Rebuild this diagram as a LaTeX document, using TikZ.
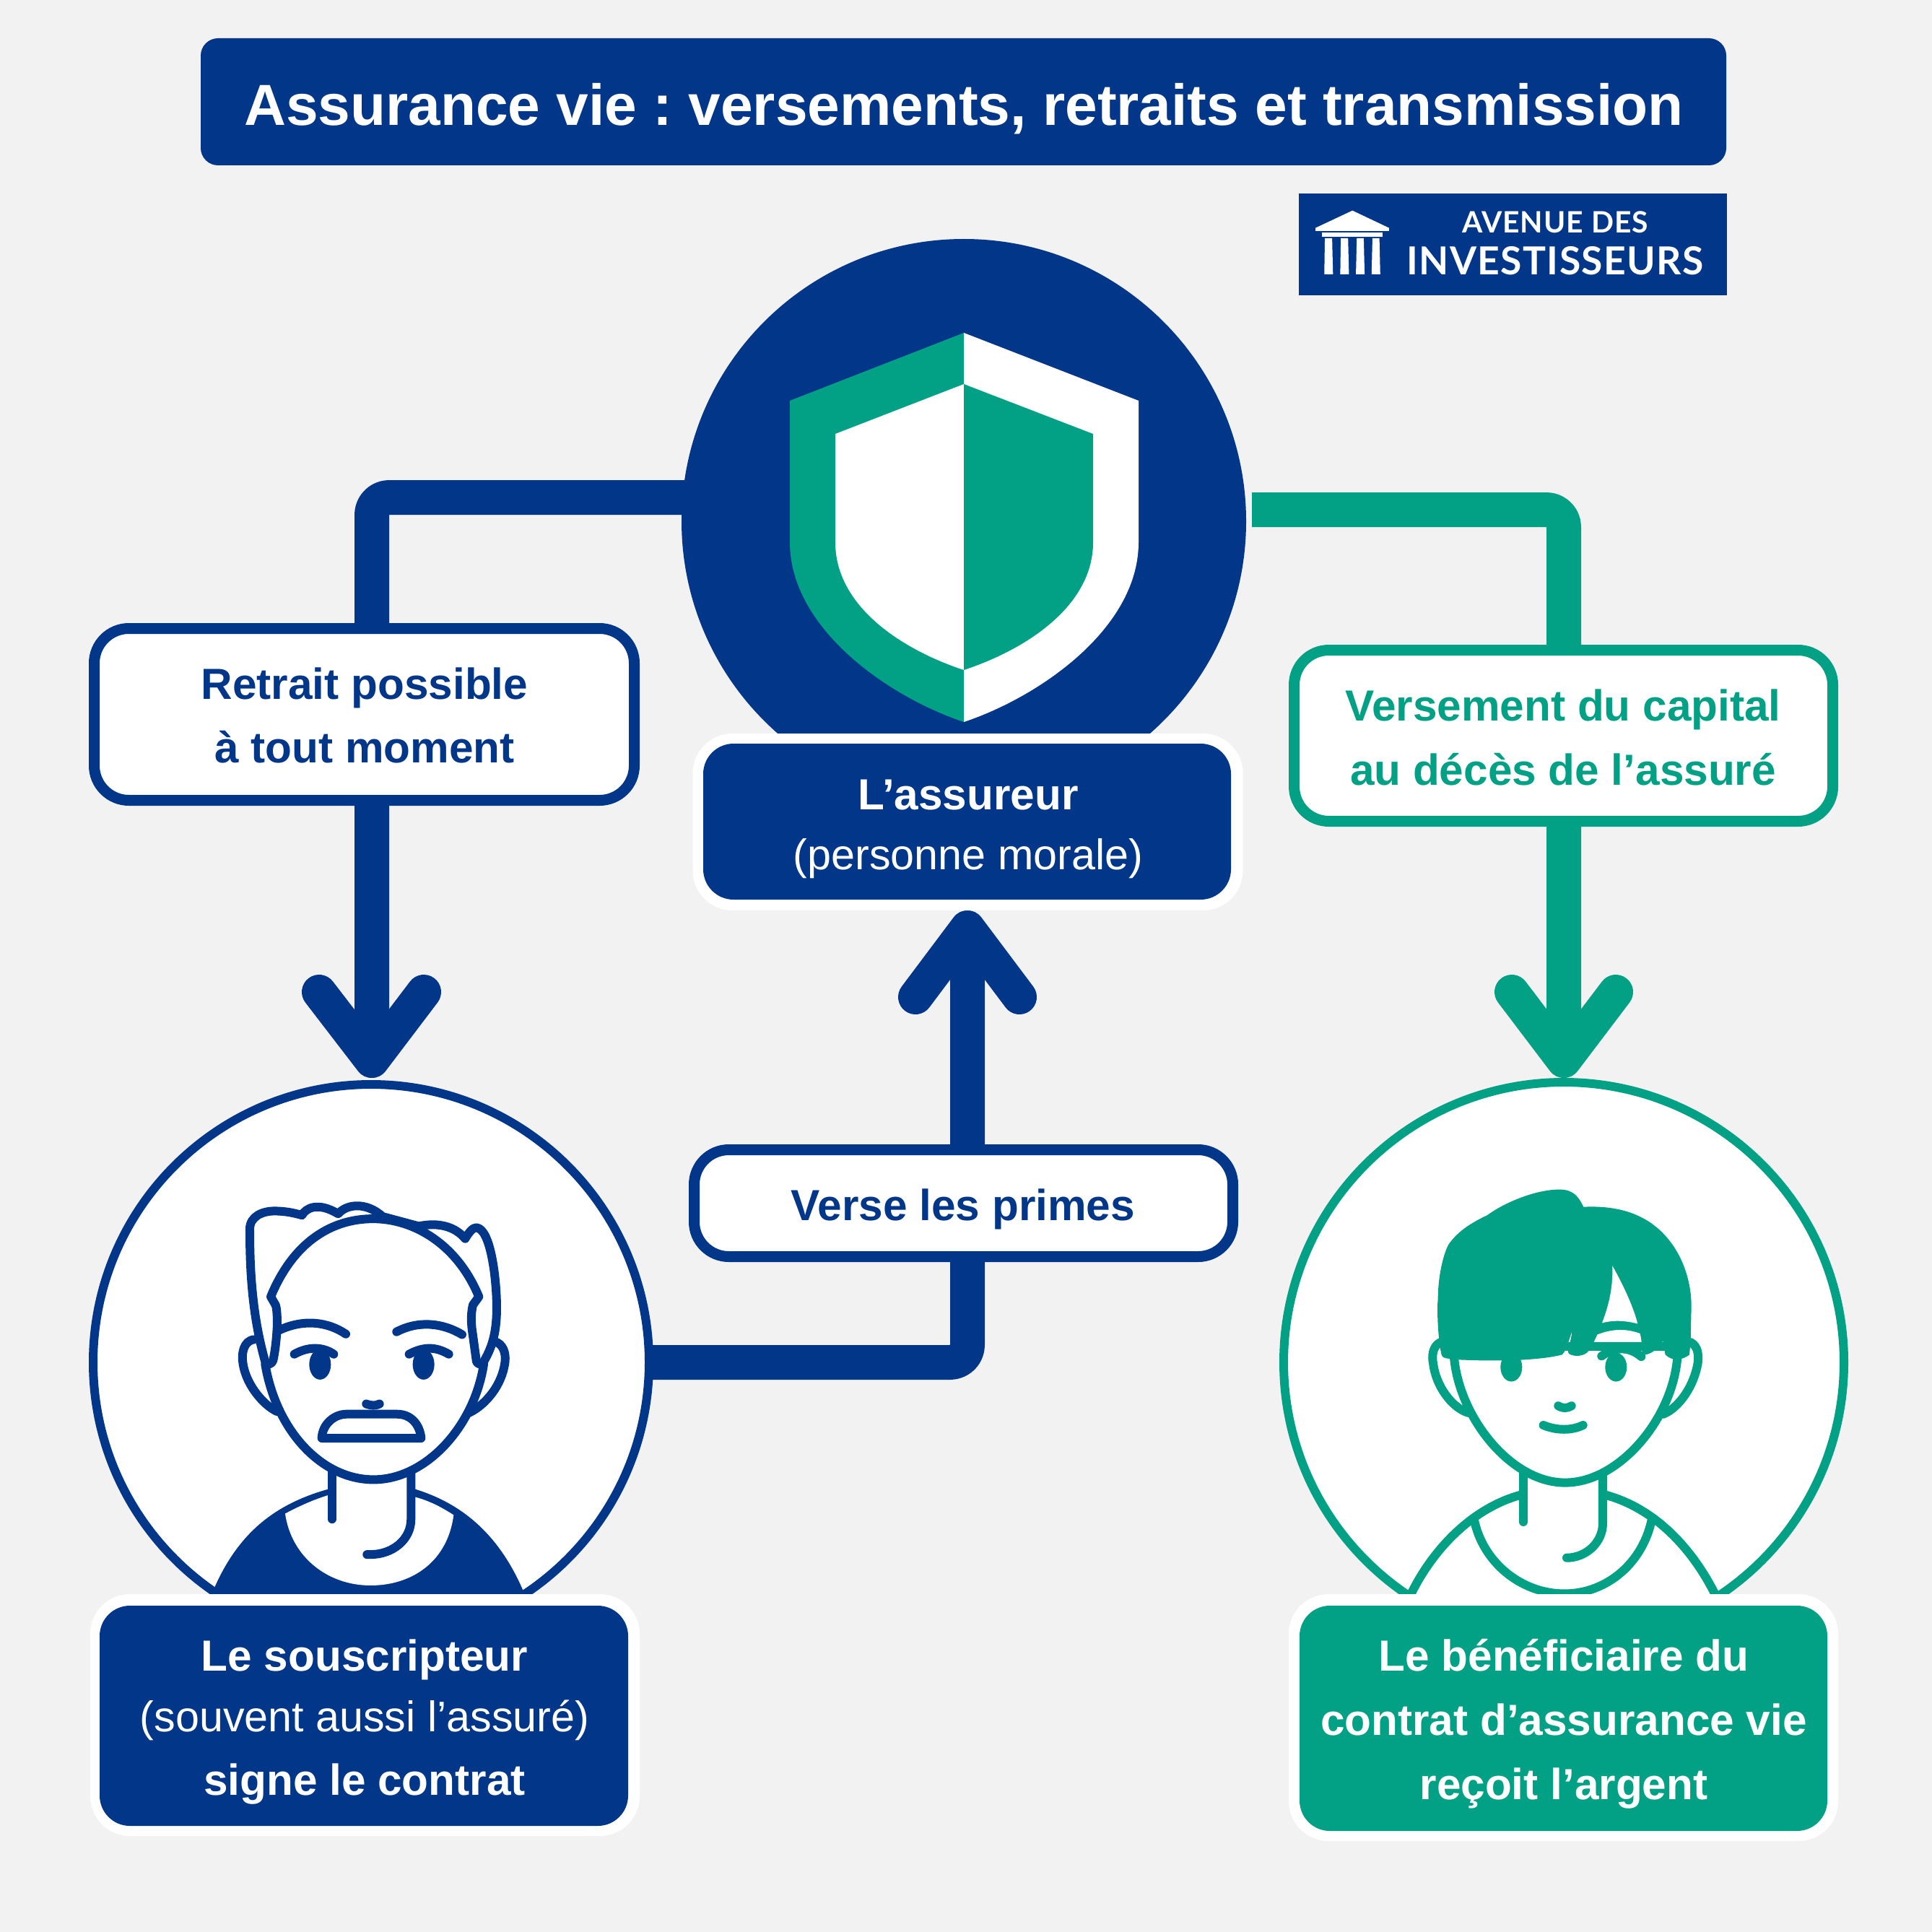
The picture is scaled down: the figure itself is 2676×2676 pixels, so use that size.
\documentclass[tikz,border=0pt]{standalone}
\usepackage{fontspec}
\setmainfont{Liberation Sans}
\newfontfamily\logofont{Lato}
\definecolor{ablue}{HTML}{013688}
\definecolor{agreen}{HTML}{02A084}
\definecolor{abg}{HTML}{F2F2F2}
\newcommand{\fpx}[1]{\fontsize{#1}{#1}\selectfont}
\pgfdeclarelayer{bg}
\pgfdeclarelayer{under}
\pgfsetlayers{bg,under,main}
\tikzset{
  x=0.01cm,y=-0.01cm,
  pxsize/.style 2 args={minimum width=#1*0.01cm,minimum height=#2*0.01cm,inner sep=0pt,outer sep=0pt},
  panel/.style={rectangle,rounded corners=0.42cm,draw=none},
  halo/.style={rectangle,rounded corners=0.55cm,fill=white,draw=none},
  tagbox/.style={rectangle,rounded corners=0.48cm,fill=white,line width=15*0.01cm},
  disc/.style={circle,inner sep=0pt,outer sep=0pt},
  conn/.style={line width=48*0.01cm,line join=round},
  elbow/.style={conn,rounded corners=0.24cm},
  wings/.style={conn,line cap=round},
  lab/.style={anchor=base,inner sep=0pt,outer sep=0pt},
  big/.style={lab,font=\fpx{17.15}\bfseries},
  thin/.style={lab,font=\fpx{16.85}},
  ink/.style={line width=12*0.01cm,line cap=round,line join=round},
}
\begin{document}
\frenchspacing
\begin{tikzpicture}
\useasboundingbox (0,0) rectangle (2676,2676);
\begin{pgfonlayer}{bg}
\fill[abg] (0,0) rectangle (2676,2676);
\end{pgfonlayer}

% coordinates for connectors
\coordinate (elbowL) at (515,689);
\coordinate (tipL) at (515,1469);
\coordinate (wingLa) at (442,1374);
\coordinate (wingLb) at (587,1374);
\coordinate (greenStart) at (1734,706);
\coordinate (elbowR) at (2166,706);
\coordinate (tipR) at (2166,1469);
\coordinate (wingRa) at (2094,1374);
\coordinate (wingRb) at (2238,1374);
\coordinate (elbowU) at (1340,1887);
\coordinate (tipU) at (1340,1285);
\coordinate (wingUa) at (1268,1381);
\coordinate (wingUb) at (1412,1381);

% Title
\node[rectangle,rounded corners=0.24cm,fill=ablue,pxsize={2113}{176}] (titlebox) at (1334.5,141) {};
\node[lab,font=\fpx{22.82}\bfseries,text=white] (titletext) at (1335,174) {Assurance vie : versements, retraits et transmission};

% Logo
\node[rectangle,fill=ablue,pxsize={593}{141}] (logobox) at (2095.5,339) {};
\begin{scope}[shift={(1780,250)},xscale=0.4018,yscale=0.3333]
  \fill[white] (232,125) -- (358,197) -- (358,210) -- (105,210) -- (105,197) -- cycle;
  \fill[white] (128,215) rectangle (335,235);
  \fill[white] (137,240) -- (162,240) -- (165,390) -- (135,390) -- cycle;
  \fill[white] (192,240) -- (217,240) -- (220,390) -- (190,390) -- cycle;
  \fill[white] (247,240) -- (271,240) -- (274,390) -- (244,390) -- cycle;
  \fill[white] (301,240) -- (325,240) -- (328,390) -- (298,390) -- cycle;
\end{scope}
\node[lab,font=\logofont\bfseries\fpx{11.6}\addfontfeatures{LetterSpace=2.5},text=white] (logoa) at (2154,323) {AVENUE DES};
\node[lab,font=\logofont\bfseries\fpx{15.2}\addfontfeatures{LetterSpace=2.5},text=white] (logob) at (2154,380) {INVESTISSEURS};

% Insurer disc and shield
\node[disc,fill=ablue,minimum size=782*0.01cm] (insurer) at (1335,722) {};
\fill[agreen] (1335,461) -- (1094,555) -- (1094,751) .. controls (1094,870) and (1230,965) .. (1335,1000) -- cycle;
\fill[white] (1335,461) -- (1577,555) -- (1577,751) .. controls (1577,870) and (1440,965) .. (1335,1000) -- cycle;
\fill[white] (1335,532) -- (1157,601) -- (1157,751) .. controls (1157,840) and (1250,900) .. (1335,928) -- cycle;
\fill[agreen] (1335,532) -- (1514,601) -- (1514,751) .. controls (1514,840) and (1420,900) .. (1335,928) -- cycle;

% Person 1
\node[disc,fill=white,draw=ablue,line width=12*0.01cm,minimum size=770*0.01cm] (person1) at (514,1887) {};
\begin{scope}[shift={(280,1620)},xscale=0.3333,yscale=0.3827]
  % shirt
  \fill[ablue] (25,1570) .. controls (130,1320) and (300,1210) .. (530,1155) -- (880,1155) .. controls (1050,1200) and (1240,1300) .. (1355,1570) -- cycle;
  \fill[white] (345,1245) .. controls (420,1210) and (480,1190) .. (525,1178) -- (885,1185) .. controls (950,1200) and (1000,1225) .. (1045,1250) .. controls (1020,1420) and (870,1505) .. (700,1505) .. controls (520,1505) and (370,1400) .. (345,1245) -- cycle;
  \fill[white] (540,1080) rectangle (868,1200);
  % neck
  \draw[ink,draw=ablue] (540,1090) -- (540,1265);
  \draw[ink,draw=ablue] (868,1090) -- (868,1265) .. controls (868,1340) and (790,1393) .. (700,1393) -- (685,1393);
  % ears
  \draw[ink,draw=ablue,fill=white] (215,615) .. controls (170,620) and (165,670) .. (168,690) .. controls (175,770) and (250,850) .. (310,875);
  \draw[ink,draw=ablue,fill=white] (1225,625) .. controls (1260,640) and (1262,680) .. (1258,700) .. controls (1245,780) and (1180,850) .. (1110,880);
  % back hair
  \draw[ink,draw=ablue,fill=white] (262,695) .. controls (205,520) and (198,350) .. (198,215) .. controls (198,170) and (250,150) .. (300,150) .. controls (350,150) and (385,158) .. (415,165) .. controls (430,140) and (480,115) .. (565,160) .. controls (600,125) and (680,115) .. (750,170) -- (900,205) .. controls (980,190) and (1050,205) .. (1093,250) .. controls (1110,225) and (1125,210) .. (1140,210) .. controls (1200,215) and (1224,400) .. (1224,500) .. controls (1224,600) and (1200,650) .. (1170,695);
  % head
  \draw[ink,draw=ablue,fill=white] (285,460) .. controls (380,260) and (540,178) .. (710,178) .. controls (880,178) and (1060,270) .. (1150,460) -- (1125,490) .. controls (1115,530) and (1118,560) .. (1125,600) -- (1140,695) .. controls (1145,705) and (1160,705) .. (1170,705) .. controls (1130,930) and (930,1122) .. (712,1122) .. controls (500,1122) and (310,950) .. (262,705) .. controls (275,705) and (290,705) .. (295,690) .. controls (305,650) and (310,600) .. (312,560) .. controls (312,530) and (310,500) .. (305,490) -- cycle;
  % features
  \draw[ink,draw=ablue] (318,582) .. controls (420,540) and (520,550) .. (597,595);
  \draw[ink,draw=ablue] (808,587) .. controls (900,545) and (1000,555) .. (1080,597);
  \draw[ink,draw=ablue] (383,668) .. controls (440,640) and (500,640) .. (547,668);
  \draw[ink,draw=ablue] (860,668) .. controls (920,640) and (970,640) .. (1025,668);
  \fill[ablue] (490,705) ellipse [x radius=45,y radius=55];
  \fill[ablue] (920,705) ellipse [x radius=45,y radius=55];
  \draw[ink,draw=ablue] (682,848) .. controls (705,855) and (720,855) .. (737,848);
  \draw[ink,draw=ablue] (497,972) .. controls (500,920) and (550,885) .. (600,885) -- (810,885) .. controls (870,885) and (905,925) .. (910,972) -- cycle;
\end{scope}

% Person 2
\node[disc,fill=white,draw=agreen,line width=12*0.01cm,minimum size=776*0.01cm] (person2) at (2166,1887) {};
\begin{scope}[shift={(1900,1620)},xscale=0.3333,yscale=0.3827]
  \draw[ink,draw=agreen] (145,1570) .. controls (240,1380) and (420,1220) .. (630,1175);
  \draw[ink,draw=agreen] (960,1175) .. controls (1170,1220) and (1340,1370) .. (1445,1570);
  \draw[ink,draw=agreen] (425,1265) .. controls (460,1420) and (620,1535) .. (800,1535) .. controls (980,1535) and (1130,1420) .. (1165,1260);
  \draw[ink,draw=agreen] (630,1100) -- (630,1275);
  \draw[ink,draw=agreen] (960,1100) -- (960,1280) .. controls (960,1350) and (890,1405) .. (810,1405);
  \draw[ink,draw=agreen,fill=white] (285,625) .. controls (250,640) and (250,680) .. (255,700) .. controls (265,780) and (330,860) .. (400,880);
  \draw[ink,draw=agreen,fill=white] (1325,625) .. controls (1360,640) and (1358,680) .. (1355,700) .. controls (1340,780) and (1280,860) .. (1212,885);
  \draw[ink,draw=agreen,fill=white] (342,640) -- (342,680) .. controls (365,900) and (580,1133) .. (803,1133) .. controls (1030,1133) and (1250,900) .. (1270,680) -- (1270,640) -- cycle;
  \fill[agreen] (580,715) ellipse [x radius=45,y radius=52];
  \fill[agreen] (1015,715) ellipse [x radius=45,y radius=52];
  % hair
  \fill[agreen] (290,670) .. controls (275,620) and (270,500) .. (275,470) .. controls (275,380) and (300,300) .. (320,270) .. controls (360,220) and (420,190) .. (480,165) .. controls (550,120) and (680,72) .. (780,72) .. controls (840,72) and (860,100) .. (880,135) .. controls (1000,130) and (1120,150) .. (1210,230) .. controls (1300,310) and (1330,420) .. (1328,500) -- (1325,620) -- (1320,670) .. controls (1290,690) and (1250,695) .. (1220,670) -- (1210,620) .. controls (1190,650) and (1160,670) .. (1122,672) .. controls (1125,640) and (1120,610) .. (1115,593) .. controls (1060,575) and (1000,575) .. (937,597) .. controls (920,630) and (905,655) .. (895,662) .. controls (870,680) and (830,675) .. (818,665) .. controls (810,650) and (830,620) .. (832,585) .. controls (815,630) and (805,660) .. (790,670) .. controls (700,690) and (540,695) .. (360,688) -- (310,683) .. controls (295,680) and (290,675) .. (290,670) -- cycle;
  \fill[white] (1000,348) .. controls (1040,410) and (1085,490) .. (1105,558) .. controls (1050,545) and (1000,545) .. (957,555) .. controls (990,480) and (1002,420) .. (1000,348) -- cycle;
  \draw[ink,draw=agreen] (955,675) .. controls (1010,640) and (1070,640) .. (1120,677);
  \draw[ink,draw=agreen] (775,855) .. controls (795,865) and (810,865) .. (830,855);
  \draw[ink,draw=agreen] (713,925) .. controls (770,945) and (830,945) .. (878,925);
\end{scope}

% Connectors, under the discs
\begin{pgfonlayer}{under}
\draw[elbow,draw=ablue] (insurer.center |- elbowL) -- (elbowL) -- (tipL);
\draw[wings,draw=ablue] (wingLa) -- (tipL) -- (wingLb);
\draw[elbow,draw=agreen] (greenStart) -- (elbowR) -- (tipR);
\draw[wings,draw=agreen] (wingRa) -- (tipR) -- (wingRb);
\draw[elbow,draw=ablue] (person1.center) -- (elbowU) -- (tipU);
\draw[wings,draw=ablue] (wingUa) -- (tipU) -- (wingUb);
\end{pgfonlayer}

% Label panels
\node[halo,pxsize={762}{245}] (insurerHalo) at (1340.5,1138.5) {};
\node[panel,fill=ablue,pxsize={731}{216}] (insurerPanel) at (1339.5,1138) {};
\node[big,text=white] (insurerA) at (1341,1121) {L’assureur};
\node[thin,text=white] (insurerB) at (1341,1204) {(personne morale)};

\node[halo,pxsize={761}{335}] (subHalo) at (505.5,2375.5) {};
\node[panel,fill=ablue,pxsize={732}{305}] (subPanel) at (504,2376.5) {};
\node[big,text=white] (subA) at (505,2314) {Le souscripteur};
\node[thin,text=white] (subB) at (505,2398) {(souvent aussi l’assuré)};
\node[big,text=white] (subC) at (505,2486) {signe le contrat};

\node[halo,pxsize={761}{342}] (benHalo) at (2165.5,2379) {};
\node[panel,fill=agreen,pxsize={731}{312}] (benPanel) at (2165.5,2380) {};
\node[big,text=white] (benA) at (2166,2314) {Le bénéficiaire du};
\node[big,text=white] (benB) at (2166,2403) {contrat d’assurance vie};
\node[big,text=white] (benC) at (2166,2492) {reçoit l’argent};

% Tags on connectors
\node[tagbox,draw=ablue,pxsize={748}{238}] (retrait) at (504.5,989.5) {};
\node[big,text=ablue] (retraitA) at (505,968) {Retrait possible};
\node[big,text=ablue] (retraitB) at (505,1056) {à tout moment};

\node[tagbox,draw=ablue,pxsize={746}{148}] (verse) at (1334.5,1666.5) {};
\node[big,text=ablue] (verseA) at (1334,1690) {Verse les primes};

\node[tagbox,draw=agreen,pxsize={746}{237}] (capital) at (2165.5,1019) {};
\node[big,text=agreen] (capitalA) at (2165,998) {Versement du capital};
\node[big,text=agreen] (capitalB) at (2165,1087) {au décès de l’assuré};
\end{tikzpicture}
\end{document}
